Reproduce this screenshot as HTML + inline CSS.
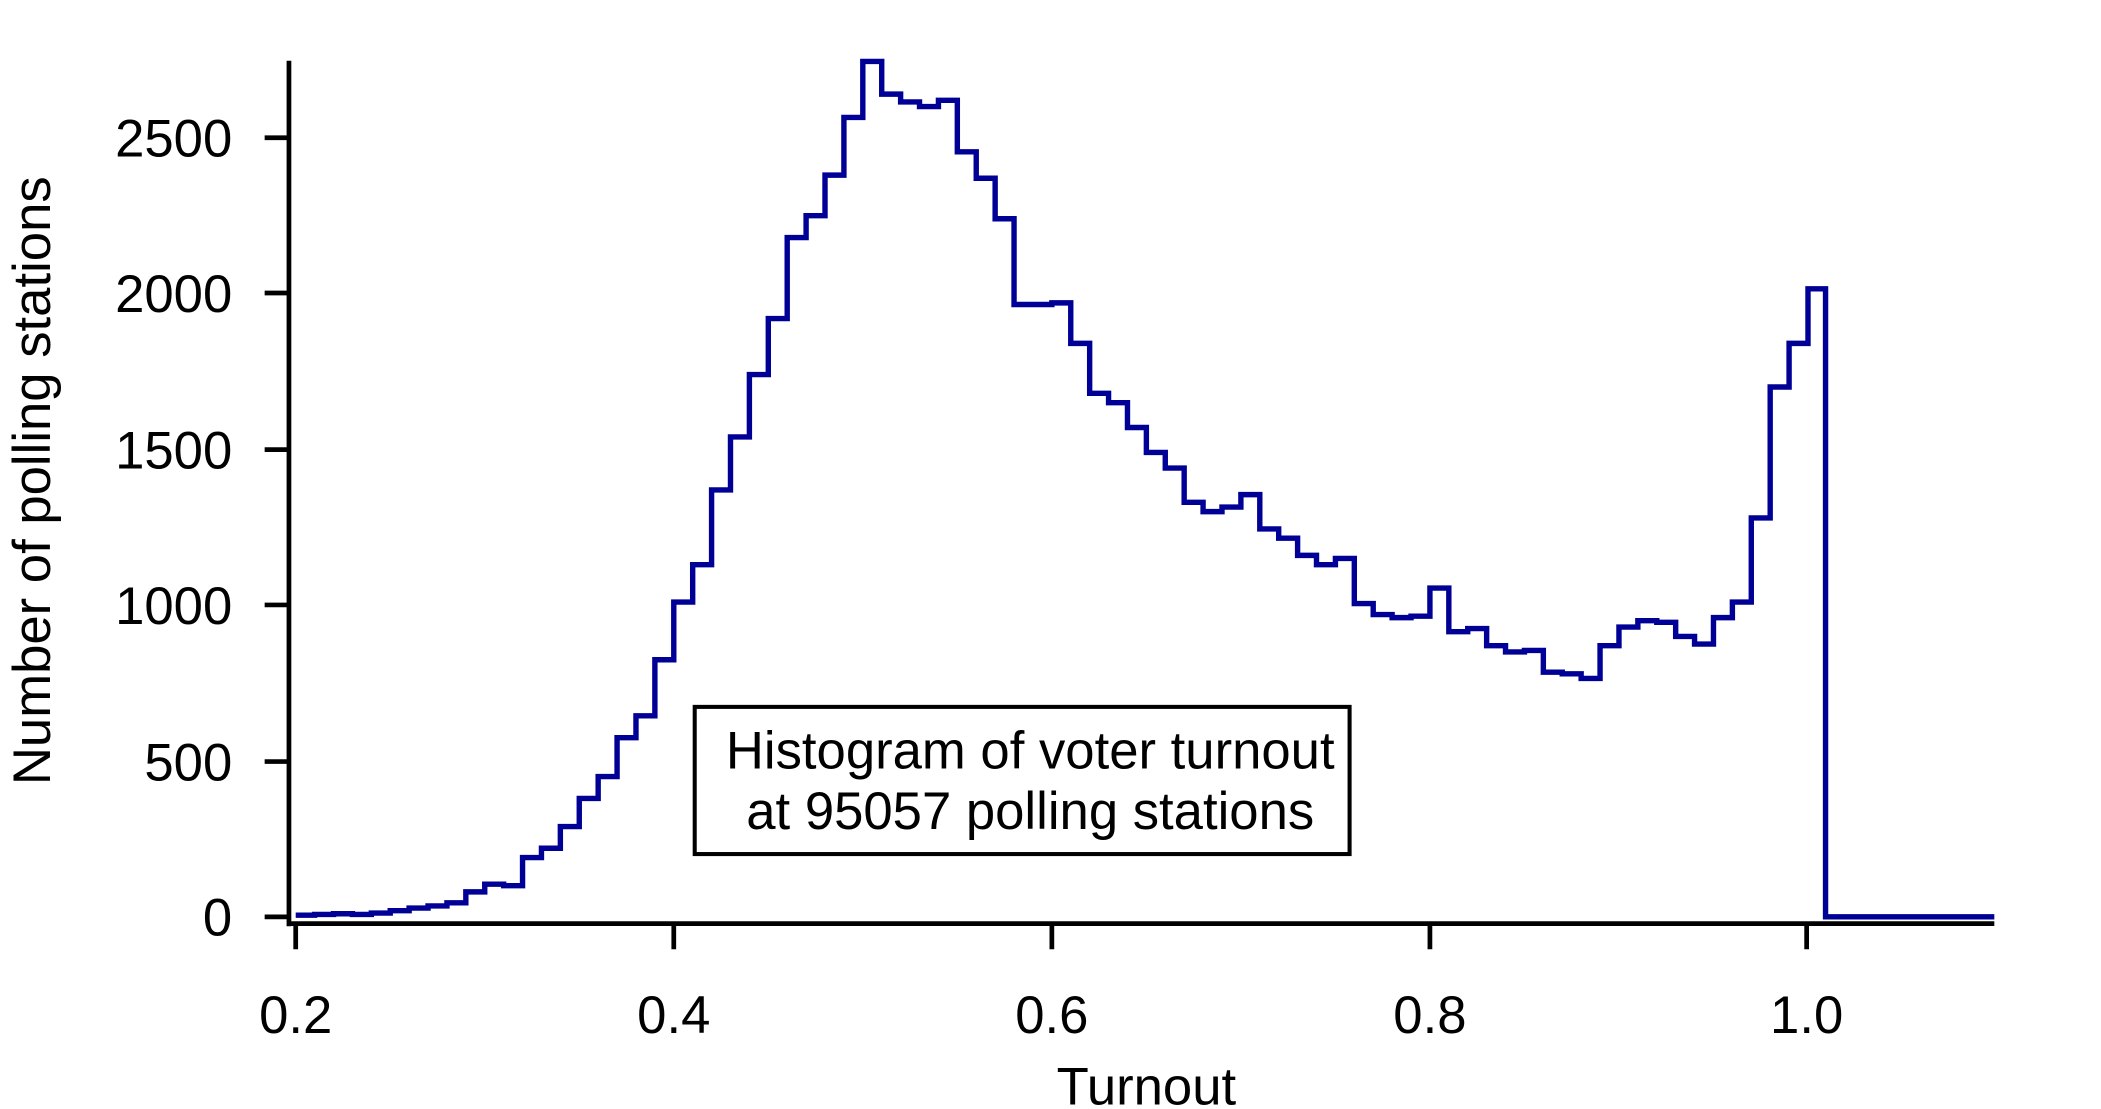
<!DOCTYPE html>
<html><head><meta charset="utf-8"><style>html,body{margin:0;padding:0;background:#fff}svg{display:block}</style></head>
<body>
<svg width="2101" height="1109" viewBox="0 0 1556 821.3" preserveAspectRatio="none" xmlns="http://www.w3.org/2000/svg" font-family="Liberation Sans, sans-serif">
<rect width="1556" height="822" fill="#fff"/>
<g stroke="#000" stroke-width="3.5" fill="none">
<line x1="214" y1="45" x2="214" y2="686"/>
<line x1="212.5" y1="684" x2="1477" y2="684"/>
<line x1="196" y1="679" x2="214" y2="679"/>
<line x1="196" y1="564" x2="214" y2="564"/>
<line x1="196" y1="448" x2="214" y2="448"/>
<line x1="196" y1="333" x2="214" y2="333"/>
<line x1="196" y1="217" x2="214" y2="217"/>
<line x1="196" y1="102" x2="214" y2="102"/>
<line x1="219" y1="684" x2="219" y2="703"/>
<line x1="499" y1="684" x2="499" y2="703"/>
<line x1="779" y1="684" x2="779" y2="703"/>
<line x1="1059" y1="684" x2="1059" y2="703"/>
<line x1="1338" y1="684" x2="1338" y2="703"/>
</g>
<g font-size="39" text-anchor="end" fill="#000">
<text x="172" y="693">0</text>
<text x="172" y="578">500</text>
<text x="172" y="462">1000</text>
<text x="172" y="347">1500</text>
<text x="172" y="231">2000</text>
<text x="172" y="116">2500</text>
</g>
<g font-size="39" text-anchor="middle" fill="#000">
<text x="219" y="765">0.2</text>
<text x="499" y="765">0.4</text>
<text x="779" y="765">0.6</text>
<text x="1059" y="765">0.8</text>
<text x="1338" y="765">1.0</text>
<text x="849" y="818">Turnout</text>
</g>
<text transform="translate(37,356) rotate(-90)" font-size="39" text-anchor="middle">Number of polling stations</text>
<path fill="none" stroke="#000096" stroke-width="4" stroke-linejoin="miter" d="M219,677.8 H233 V677.2 H247 V676.7 H261 V677.2 H275 V676.2 H289 V674.4 H303 V672.5 H317 V670.9 H331 V668.6 H345 V660.5 H359 V654.8 H373 V655.9 H387 V635.1 H401 V628.2 H415 V612.1 H429 V591.3 H443 V575.1 H457 V546.3 H471 V530.1 H485 V488.6 H499 V445.9 H513 V418.2 H527 V362.8 H541 V323.6 H555 V277.4 H569 V235.9 H583 V175.9 H597 V159.7 H611 V129.7 H625 V87 H639 V45.5 H653 V69.7 H667 V75.5 H681 V78.9 H695 V74.3 H709 V112.4 H723 V132 H737 V162 H751 V225.5 H765 V225.5 H779 V224.3 H793 V254.3 H807 V291.3 H821 V298.2 H835 V316.6 H849 V335.1 H863 V346.6 H877 V372 H891 V378.9 H905 V375.5 H919 V366.3 H933 V391.7 H947 V398.6 H961 V411.3 H975 V418.2 H989 V413.6 H1003 V447 H1017 V455.1 H1031 V457.4 H1045 V456.3 H1059 V435.5 H1073 V467.8 H1087 V465.5 H1101 V478.2 H1115 V482.8 H1129 V481.7 H1143 V497.8 H1157 V499 H1171 V502.4 H1185 V478.2 H1199 V464.4 H1213 V459.7 H1227 V460.9 H1241 V471.3 H1255 V477 H1269 V457.4 H1283 V445.9 H1297 V383.6 H1311 V286.6 H1325 V254.3 H1339 V213.9 H1352 V679 H1477"/>
<rect x="514.5" y="523.5" width="485" height="109" fill="#fff" stroke="#000" stroke-width="3"/>
<g font-size="39" text-anchor="middle">
<text x="763" y="569">Histogram of voter turnout</text>
<text x="763" y="614">at 95057 polling stations</text>
</g>
</svg>
</body></html>
